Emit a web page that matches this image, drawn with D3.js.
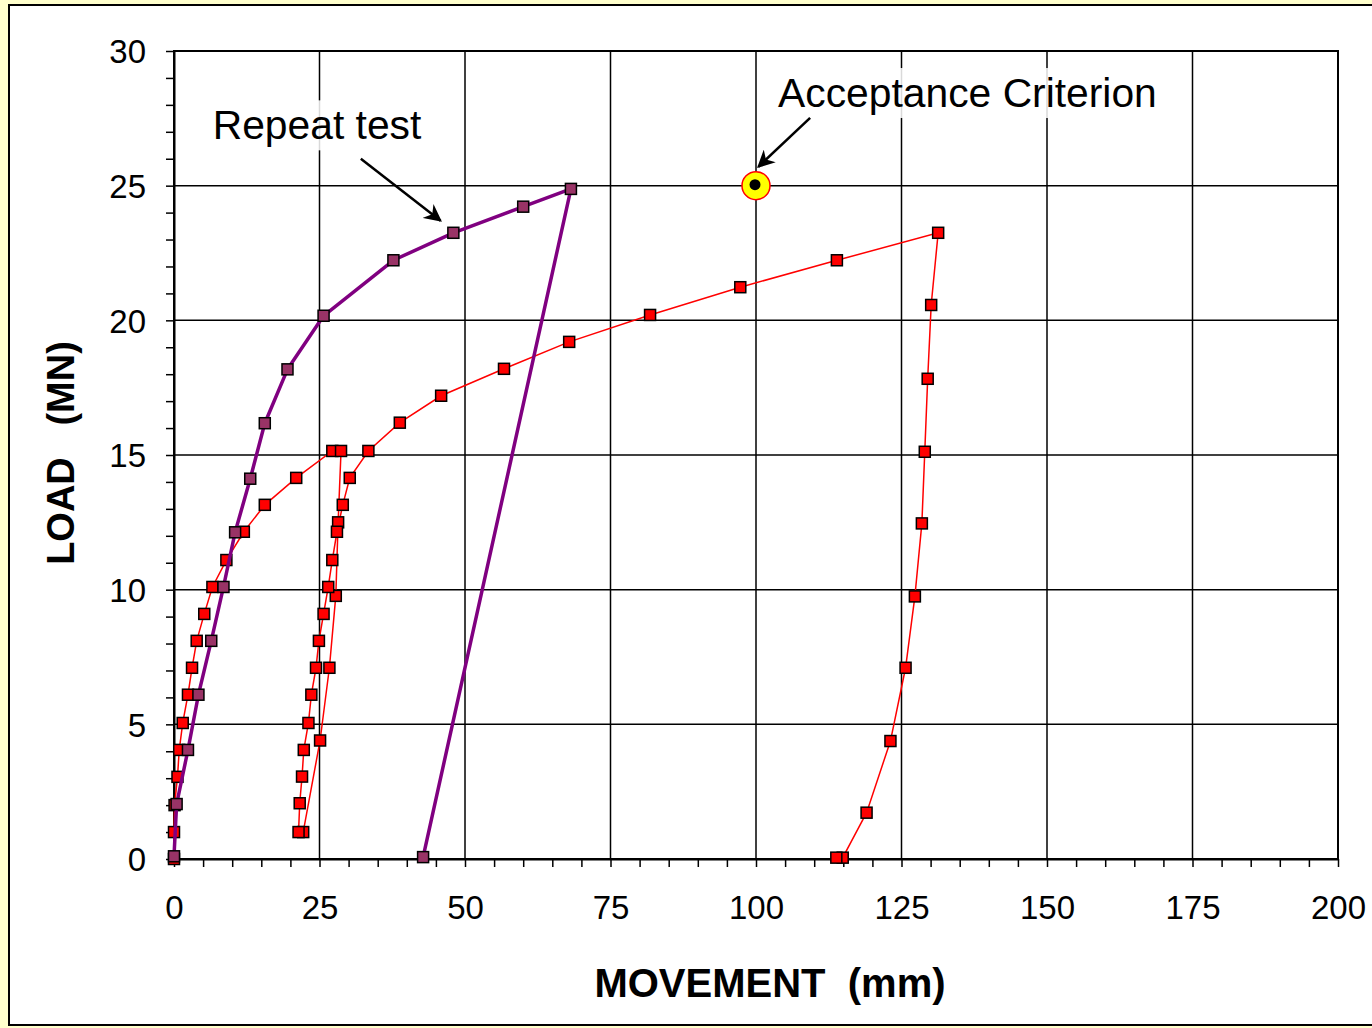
<!DOCTYPE html>
<html>
<head>
<meta charset="utf-8">
<script src="https://cdn.jsdelivr.net/npm/d3@7"></script>
<style>
  html, body { margin: 0; padding: 0; background: #FFFFCC; }
  svg { display: block; }
  text { font-family: Arial, "Liberation Sans", sans-serif; }
</style>
</head>
<body>
<svg id="chart" width="1372" height="1028"></svg>
<script>
// Pile load test: load (MN) against head movement (mm)

// First test: loading to 15 MN, unload/reload cycle, then loading to 23.2 MN and final unload
const testMovement = [0, 0, 0.1, 0.6, 0.9, 1.5, 2.4, 3.1, 3.9, 5.2, 6.6, 9.0, 12.0, 15.6, 21.0, 27.2,
  28.7, 28.2, 27.8, 26.7, 25.1, 22.2,
  21.4, 21.6, 22.0, 22.3, 23.1, 23.6, 24.4, 24.9, 25.7, 26.5, 27.2, 28.0, 29.0, 30.2, 33.4,
  38.8, 45.9, 56.7, 67.9, 81.8, 97.3, 113.9, 131.3,
  130.1, 129.5, 129.0, 128.5, 127.3, 125.7, 123.1, 119.0, 114.9, 113.8];
const testLoad = [0, 1.0, 2.0, 3.05, 4.05, 5.05, 6.1, 7.1, 8.1, 9.1, 10.1, 11.1, 12.15, 13.15, 14.15, 15.15,
  15.15, 12.5, 9.77, 7.1, 4.4, 1.0,
  1.0, 2.07, 3.06, 4.05, 5.05, 6.1, 7.1, 8.1, 9.1, 10.1, 11.1, 12.15, 13.15, 14.15, 15.15,
  16.2, 17.2, 18.2, 19.2, 20.2, 21.23, 22.23, 23.25,
  20.57, 17.83, 15.12, 12.46, 9.75, 7.1, 4.38, 1.72, 0.05, 0.05];

// Repeat test
const repeatMovement = [0, 0.45, 2.4, 4.2, 6.4, 8.5, 10.5, 13.1, 15.6, 19.5, 25.7, 37.7, 48.0, 60.0, 68.2, 42.8];
const repeatLoad = [0.1, 2.04, 4.05, 6.1, 8.1, 10.1, 12.13, 14.12, 16.18, 18.18, 20.17, 22.23, 23.25, 24.22, 24.88, 0.07];

// Acceptance criterion point
const criterionMovement = [100];
const criterionLoad = [25];

// Axes
const xTickLabels = [0, 25, 50, 75, 100, 125, 150, 175, 200];
const yTickLabels = [0, 5, 10, 15, 20, 25, 30];
const xTitle = "MOVEMENT  (mm)";
const yTitle = "LOAD   (MN)";

// Annotations (in data units)
const repeatLabel = { text: "Repeat test", x: 6.65, y: 26.72 };
const repeatArrow = { x1: 32.1, y1: 26.0, x2: 45.8, y2: 23.7 };
const criterionLabel = { text: "Acceptance Criterion", x: 103.8, y: 27.92 };
const criterionArrow = { x1: 109.3, y1: 27.52, x2: 100.4, y2: 25.7 };

const svg = d3.select("#chart");
const W = 1372, H = 1028;
const plot = { left: 174, right: 1338, top: 51, bottom: 859 };

const x = d3.scaleLinear().domain([0, 200]).range([plot.left, plot.right]);
const y = d3.scaleLinear().domain([0, 30]).range([plot.bottom, plot.top]);

// outer frame
svg.append("rect").attr("x", 0).attr("y", 0).attr("width", W).attr("height", H).attr("fill", "#FFFFCC");
svg.append("rect").attr("x", 9).attr("y", 5).attr("width", W + 10).attr("height", 1020)
  .attr("fill", "#ffffff").attr("stroke", "#000").attr("stroke-width", 2);

const defs = svg.append("defs");
defs.append("marker").attr("id", "arrowhead")
  .attr("viewBox", "0 0 10 10").attr("refX", 9).attr("refY", 5)
  .attr("markerWidth", 7).attr("markerHeight", 7).attr("markerUnits", "strokeWidth")
  .attr("orient", "auto")
  .append("path").attr("d", "M0,0 L10,5 L0,10 L3,5 Z").attr("fill", "#000");

// gridlines
const grid = svg.append("g").attr("stroke", "#000").attr("stroke-width", 1.5);
grid.selectAll("line.v").data(xTickLabels.slice(1, -1)).join("line")
  .attr("x1", d => x(d)).attr("x2", d => x(d)).attr("y1", plot.top).attr("y2", plot.bottom);
grid.selectAll("line.h").data(yTickLabels.slice(1, -1)).join("line")
  .attr("x1", plot.left).attr("x2", plot.right).attr("y1", d => y(d)).attr("y2", d => y(d));

// plot border
svg.append("rect").attr("x", plot.left).attr("y", plot.top)
  .attr("width", plot.right - plot.left).attr("height", plot.bottom - plot.top)
  .attr("fill", "none").attr("stroke", "#000").attr("stroke-width", 2);

// axes
const yAxis = d3.axisLeft(y).tickValues(d3.range(0, 31, 1)).tickSize(8).tickSizeOuter(0).tickPadding(20)
  .tickFormat(d => yTickLabels.includes(d) ? d : "");
const xAxis = d3.axisBottom(x).tickValues(d3.range(0, 201, 5)).tickSize(8).tickSizeOuter(0).tickPadding(29)
  .tickFormat(d => xTickLabels.includes(d) ? d : "");

const gy = svg.append("g").attr("transform", `translate(${plot.left},0)`).call(yAxis);
const gx = svg.append("g").attr("transform", `translate(0,${plot.bottom})`).call(xAxis);
[gx, gy].forEach(g => {
  g.selectAll("line").attr("stroke", "#000").attr("stroke-width", 1.5);
  g.select(".domain").attr("stroke", "#000").attr("stroke-width", 2);
  g.selectAll("text").attr("font-size", 33).attr("fill", "#000")
    .attr("font-family", 'Arial, "Liberation Sans", sans-serif');
});
gy.selectAll("text").attr("dy", "0.36em");

// axis titles
svg.append("text").attr("x", 770).attr("y", 997)
  .attr("text-anchor", "middle").attr("font-size", 40).attr("font-weight", "bold")
  .style("white-space", "pre").text(xTitle);
svg.append("text").attr("transform", `translate(74,${(plot.top + plot.bottom) / 2 - 2}) rotate(-90)`)
  .attr("text-anchor", "middle").attr("font-size", 38).attr("font-weight", "bold")
  .style("white-space", "pre").text(yTitle);

// test series
const testData = testMovement.map((m, i) => [m, testLoad[i]]);
const repeatData = repeatMovement.map((m, i) => [m, repeatLoad[i]]);
const line = d3.line().x(d => x(d[0])).y(d => y(d[1]));

svg.append("path").datum(testData).attr("d", line)
  .attr("fill", "none").attr("stroke", "#FF0000").attr("stroke-width", 1.5);
svg.append("g").selectAll("rect").data(testData).join("rect")
  .attr("x", d => x(d[0]) - 5.5).attr("y", d => y(d[1]) - 5.5)
  .attr("width", 11).attr("height", 11)
  .attr("fill", "#FF0000").attr("stroke", "#000").attr("stroke-width", 1.5);

svg.append("path").datum(repeatData).attr("d", line)
  .attr("fill", "none").attr("stroke", "#800080").attr("stroke-width", 3.5).attr("stroke-linejoin", "round");
svg.append("g").selectAll("rect").data(repeatData).join("rect")
  .attr("x", d => x(d[0]) - 5.5).attr("y", d => y(d[1]) - 5.5)
  .attr("width", 11).attr("height", 11)
  .attr("fill", "#993366").attr("stroke", "#000").attr("stroke-width", 1.5);

// acceptance criterion
const crit = criterionMovement.map((m, i) => [m, criterionLoad[i]]);
svg.append("g").selectAll("circle").data(crit).join("circle")
  .attr("cx", d => x(d[0])).attr("cy", d => y(d[1])).attr("r", 14)
  .attr("fill", "#FFFF00").attr("stroke", "#FF0000").attr("stroke-width", 1.5);
svg.append("g").selectAll("circle").data(crit).join("circle")
  .attr("cx", d => x(d[0]) - 1).attr("cy", d => y(d[1]) - 1).attr("r", 5.5).attr("fill", "#000");

// annotation labels with translucent white backgrounds
function label(lbl) {
  const t = svg.append("text").attr("x", x(lbl.x)).attr("y", y(lbl.y))
    .attr("font-size", 40.8).attr("fill", "#000").text(lbl.text);
  const bb = t.node().getBBox();
  svg.insert("rect", () => t.node())
    .attr("x", bb.x - 8).attr("y", bb.y - 2).attr("width", bb.width + 16).attr("height", bb.height + 4)
    .attr("fill", "#fff").attr("fill-opacity", 0.85);
}
label(repeatLabel);
label(criterionLabel);

[repeatArrow, criterionArrow].forEach(a => {
  svg.append("line").attr("x1", x(a.x1)).attr("y1", y(a.y1)).attr("x2", x(a.x2)).attr("y2", y(a.y2))
    .attr("stroke", "#000").attr("stroke-width", 2.5).attr("marker-end", "url(#arrowhead)");
});
</script>
</body>
</html>
